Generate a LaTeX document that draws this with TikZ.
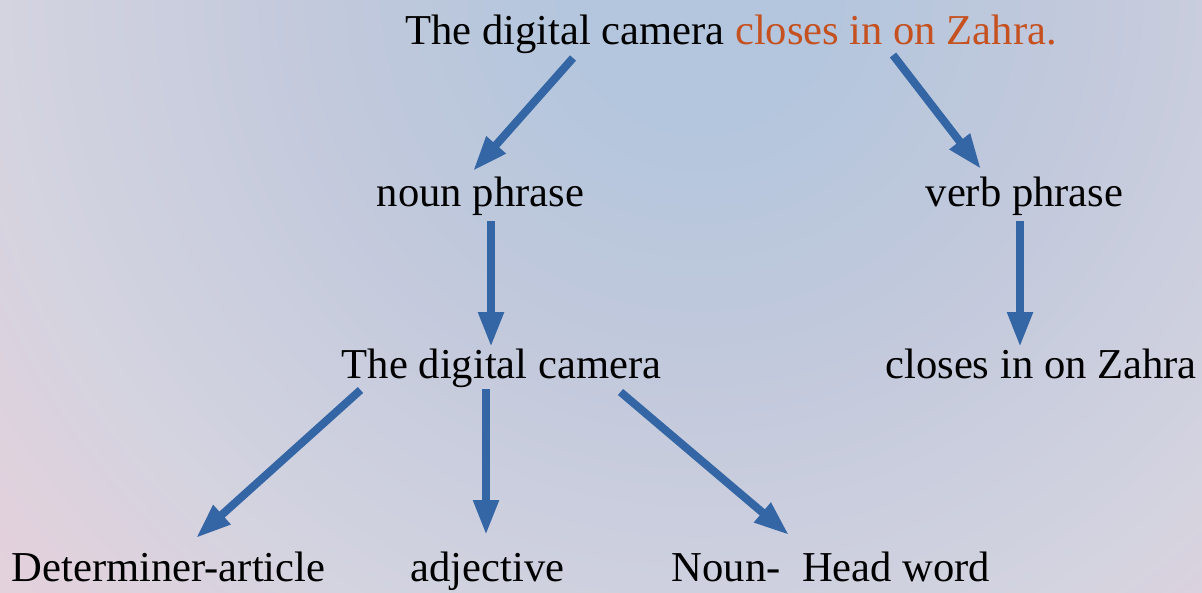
\documentclass[tikz,border=0pt]{standalone}
\usepackage{fontspec}
\setmainfont{Liberation Serif}
\usetikzlibrary{arrows.meta,calc}
\definecolor{bgA}{HTML}{B3C6DD}
\definecolor{bgB}{HTML}{C2C9DC}
\definecolor{bgC}{HTML}{D3D3E0}
\definecolor{bgD}{HTML}{E3D1DC}
\definecolor{arrblue}{RGB}{52,101,164}
\definecolor{hiorange}{RGB}{198,81,32}
\pgfdeclareradialshading{bgshade}{\pgfpoint{0bp}{0bp}}{color(0bp)=(bgA); color(120bp)=(bgA); color(380bp)=(bgB); color(680bp)=(bgC); color(900bp)=(bgD); color(1100bp)=(bgD)}
\tikzset{
  lbl/.style={anchor=base, inner sep=0pt, outer sep=0pt, text=black, font=\fontsize{42.6pt}{51pt}\selectfont},
  arr/.style={draw=arrblue, line width=8pt, line cap=butt, -{Triangle[width=24pt,length=35pt]}, fill=arrblue}
}
\begin{document}
\begin{tikzpicture}[x=1pt,y=-1pt]
\useasboundingbox (0,0) rectangle (1202,592);
\begin{scope}
  \clip (0,0) rectangle (1202,592);
  \fill[bgD] (0,0) rectangle (1202,592);
  \node[inner sep=0pt, outer sep=0pt] (bg) at (700,-10) {\pgfuseshading{bgshade}};
\end{scope}

\node[lbl] (top) at (731,44) {The digital camera {\color{hiorange}closes in on Zahra.}};
\node[lbl] (np) at (480.5,206) {noun phrase};
\node[lbl] (vp) at (1024.5,206) {verb phrase};
\node[lbl] (dc) at (501.5,378) {The digital camera};
\node[lbl] (ciz) at (1041,378) {closes in on Zahra};
\node[lbl] (det) at (168.5,581) {Determiner-article};
\node[lbl] (adj) at (487.5,581) {adjective};
\node[lbl] (head) at (831,581) {Noun-\ \ Head word};

\draw[arr] ($(top.base)+(-158,14)$) -- ($(np.base)+(-7.5,-35)$);
\draw[arr] ($(top.base)+(162,11)$) -- ($(vp.base)+(-43.5,-37)$);
\draw[arr] ($(np.base)+(10.5,15)$) -- ($(np.base)+(10.5,141)$);
\draw[arr] ($(vp.base)+(-4.5,15)$) -- ($(vp.base)+(-4.5,141)$);
\draw[arr] ($(dc.base)+(-141,12)$) -- ($(det.base)+(27.5,-43)$);
\draw[arr] ($(dc.base)+(-15.5,11)$) -- ($(adj.base)+(-1.5,-46)$);
\draw[arr] ($(dc.base)+(119,14)$) -- ($(head.base)+(-42,-46)$);
\end{tikzpicture}
\end{document}
